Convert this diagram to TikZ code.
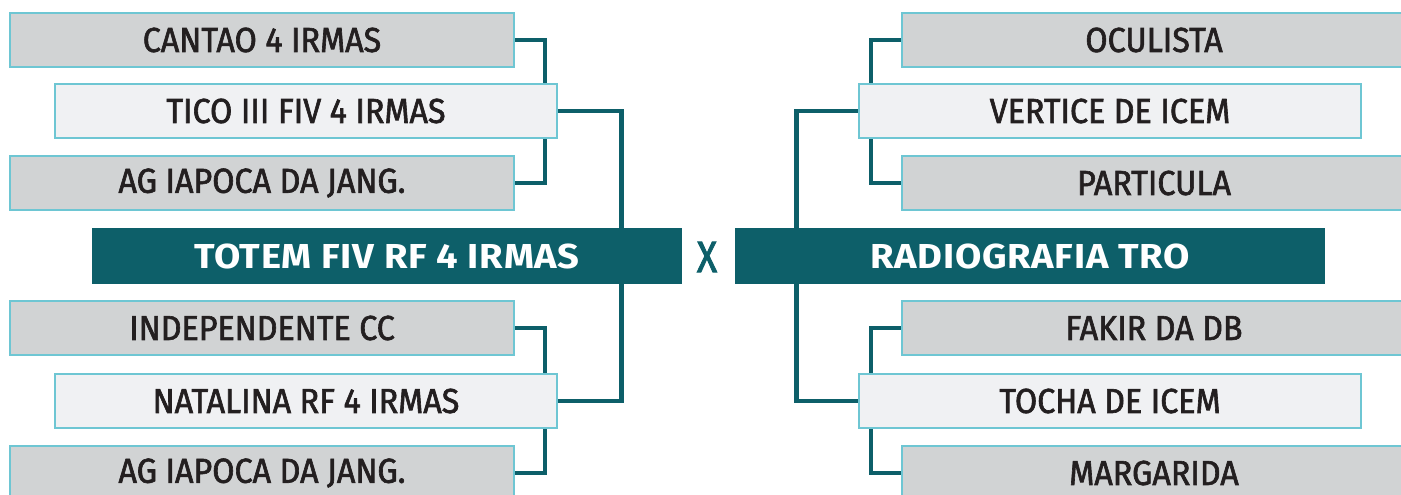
\documentclass[tikz,border=0pt]{standalone}
\usepackage{fontspec}
\setmainfont{Fira Sans}
\newfontfamily\teamfont{Fira Sans}[FakeStretch=0.93,FakeBold=1.8]
\newfontfamily\titlefont{Fira Sans}[FakeStretch=1.1,LetterSpace=2]
\newfontfamily\versusfont{Fira Sans}[FakeStretch=0.85,FakeBold=2]
\usetikzlibrary{positioning,backgrounds}

\definecolor{teal}{HTML}{0D5F69}
\definecolor{boxgray}{HTML}{D1D3D4}
\definecolor{boxlight}{HTML}{F0F1F3}
\definecolor{boxedge}{HTML}{6EC6D3}
\definecolor{inkdark}{HTML}{231F20}

\begin{document}
\begin{tikzpicture}[x=0.75pt,y=-0.75pt,
team/.style={rectangle, draw=boxedge, line width=1.5pt, fill=boxgray, minimum width=378pt, minimum height=41pt, inner sep=0pt, text=inkdark, font=\teamfont\fontsize{26}{26}\selectfont},
winner/.style={team, fill=boxlight, minimum width=376pt},
finalist/.style={rectangle, fill=teal, minimum width=443pt, minimum height=42pt, inner sep=0pt, text=white, font=\titlefont\bfseries\fontsize{26}{26}\selectfont},
link/.style={draw=teal, line width=3.3pt},
]
\useasboundingbox (0,0) rectangle (1401,495);
\clip (0,0) rectangle (1401,495);

% left bracket
\node[team](cantao) at (262,40){CANTAO 4 IRMAS};
\node[winner](tico) at (306,111){TICO III FIV 4 IRMAS};
\node[team](agtop) at (262,183){AG IAPOCA DA JANG.};
\node[finalist](totem) at (387,256){TOTEM FIV RF 4 IRMAS};
\node[team](independente) at (262,328){INDEPENDENTE CC};
\node[winner](natalina) at (306,401){NATALINA RF 4 IRMAS};
\node[team](agbottom) at (262,473){AG IAPOCA DA JANG.};

% versus
\node[text=teal, font=\versusfont\fontsize{33}{33}\selectfont](versus) at (707,257){X};

% right bracket
\node[team](oculista) at (1154,40){OCULISTA};
\node[winner](vertice) at (1110,111){VERTICE DE ICEM};
\node[team](particula) at (1154,183){PARTICULA};
\node[finalist](radiografia) at (1030,256){RADIOGRAFIA TRO};
\node[team](fakir) at (1154,328){FAKIR DA DB};
\node[winner](tocha) at (1110,401){TOCHA DE ICEM};
\node[team](margarida) at (1154,473){MARGARIDA};

% connectors behind the boxes
\begin{scope}[on background layer]
\draw[link] (cantao.east) -- ++(30,0) |- (agtop.east);
\draw[link] (independente.east) -- ++(30,0) |- (agbottom.east);
\draw[link] (tico.east) -- ++(64,0) |- (natalina.east);
\draw[link] (oculista.west) -- ++(-30,0) |- (particula.west);
\draw[link] (fakir.west) -- ++(-30,0) |- (margarida.west);
\draw[link] (vertice.west) -- ++(-62,0) |- (tocha.west);
\end{scope}

\end{tikzpicture}
\end{document}
